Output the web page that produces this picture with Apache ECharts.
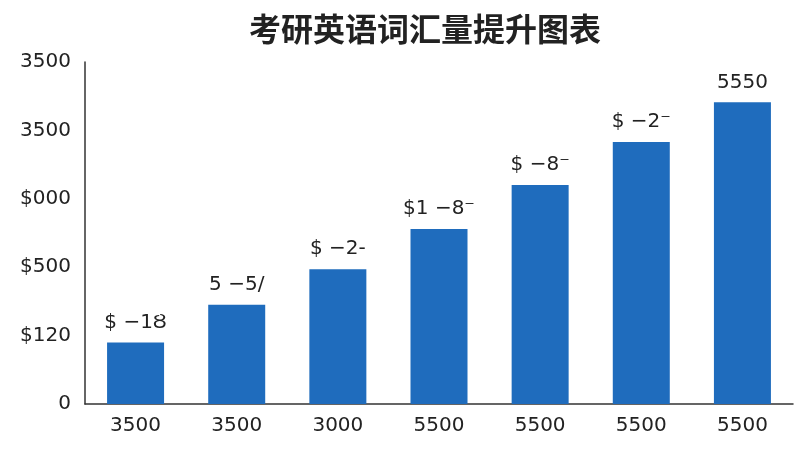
<!DOCTYPE html>
<html><head><meta charset="utf-8">
<script src="https://cdn.jsdelivr.net/npm/echarts@6/dist/echarts.min.js"></script>
<style>html,body{margin:0;padding:0;background:#fff}#c{width:800px;height:450px}</style>
</head><body><div id="c"></div>
<script>
const categories = ['3500','3500','3000','5500','5500','5500','5500'];
const values = [0.9, 1.45, 1.97, 2.56, 3.2, 3.83, 4.41];
const barLabels = ['$ \u22121\u0222', '5 \u22125/', '$ \u22122-', '$1 \u22128\u207b', '$ \u22128\u207b', '$ \u22122\u207b', '5550'];
const yTickLabels = ['0', '$120', '$500', '$000', '3500', '3500'];
const chart = echarts.init(document.getElementById('c'));
chart.setOption({
  animation: false,
  title: {text: '考研英语词汇量提升图表', left: 420, top: 8, textAlign: 'center',
    textStyle: {fontFamily: 'Noto Sans CJK SC', fontSize: 32, fontWeight: 'bold', color: '#222'}},
  grid: {left: 85, right: 7, top: 62, bottom: 46},
  xAxis: {type: 'category', data: categories,
    axisLine: {lineStyle: {color: '#333', width: 1.5}}, axisTick: {show: false},
    axisLabel: {fontSize: 20, color: '#222', margin: 12, fontFamily: 'DejaVu Sans'}},
  yAxis: {type: 'value', min: 0, max: 5, interval: 1,
    axisLine: {show: true, lineStyle: {color: '#333', width: 1.5}}, axisTick: {show: false},
    splitLine: {show: false},
    axisLabel: {fontSize: 20, color: '#222', margin: 14, fontFamily: 'DejaVu Sans',
      formatter: (v) => yTickLabels[Math.round(v)]}},
  series: [{type: 'bar', data: values, barWidth: 57,
    itemStyle: {color: '#1f6cbd'},
    label: {show: true, position: 'top', distance: 10, fontSize: 20, color: '#222', fontFamily: 'DejaVu Sans',
      formatter: (p) => barLabels[p.dataIndex]}}]
});
</script></body></html>
